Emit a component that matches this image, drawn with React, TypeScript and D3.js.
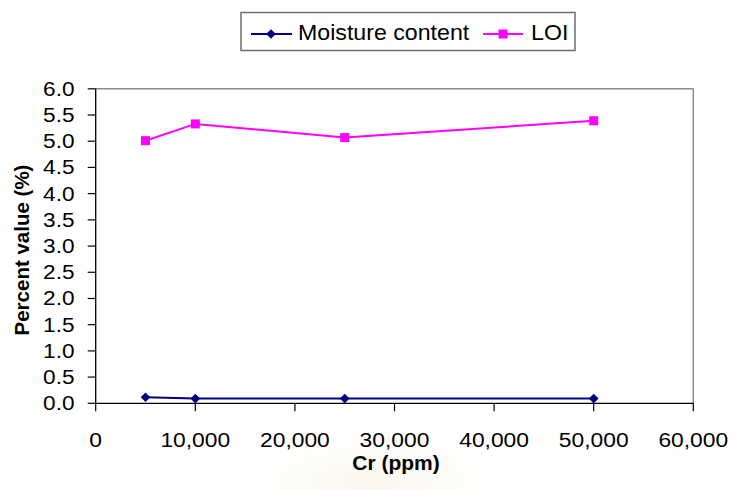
import React from "react";
import * as d3 from "d3";

// Chromium concentration (ppm) and measured percentages
const crPpm = [5000, 10000, 25000, 50000];
const moistureContent = [0.115, 0.09, 0.09, 0.09];
const loi = [5.01, 5.33, 5.07, 5.39];

const xTicks = [0, 10000, 20000, 30000, 40000, 50000, 60000];
const yTicks = [0, 0.5, 1, 1.5, 2, 2.5, 3, 3.5, 4, 4.5, 5, 5.5, 6];

const seriesNames = ["Moisture content", "LOI"];

const W = 734;
const H = 490;
const FONT = "'Liberation Sans', Arial, Helvetica, sans-serif";

export default function App() {
  const x = d3.scaleLinear().domain([0, 60000]).range([95.7, 693.3]);
  const y = d3.scaleLinear().domain([0, 6]).range([403.3, 88.8]);

  const line = d3
    .line<[number, number]>()
    .x((d) => x(d[0]))
    .y((d) => y(d[1]));

  const moisturePts = crPpm.map((c, i) => [c, moistureContent[i]] as [number, number]);
  const loiPts = crPpm.map((c, i) => [c, loi[i]] as [number, number]);

  const fmtX = d3.format(",");
  const fmtY = d3.format(".1f");

  const x0 = x(0);
  const x1 = x(60000);
  const yTop = y(6);
  const yBot = y(0);

  const diamond = (cx: number, cy: number, r = 4.8) =>
    `M${cx},${cy - r}L${cx + r},${cy}L${cx},${cy + r}L${cx - r},${cy}Z`;

  return (
    <svg
      width={W}
      height={H}
      viewBox={`0 0 ${W} ${H}`}
      style={{ position: "absolute", left: 0, top: 0, background: "#fff" }}
      fontFamily={FONT}
    >
      <defs>
        <radialGradient id="haze" cx="0.5" cy="0.5" r="0.5">
          <stop offset="0%" stopColor="#f5eed8" stopOpacity={0.5} />
          <stop offset="100%" stopColor="#f8f3e4" stopOpacity={0} />
        </radialGradient>
      </defs>
      <rect x={0} y={0} width={W} height={H} fill="#fff" />
      <ellipse cx={372} cy={480} rx={130} ry={45} fill="url(#haze)" />

      {/* plot area frame */}
      <line x1={x0} x2={x1} y1={yTop} y2={yTop} stroke="#8c8c8c" strokeWidth={1.5} />
      <line x1={x1} x2={x1} y1={yTop} y2={yBot} stroke="#8c8c8c" strokeWidth={1.5} />

      {/* y axis */}
      <line x1={x0} x2={x0} y1={yTop} y2={yBot} stroke="#000" strokeWidth={1.3} />
      {yTicks.map((t) => (
        <g key={"y" + t}>
          <line x1={x0 - 8} x2={x0} y1={y(t)} y2={y(t)} stroke="#000" strokeWidth={1.2} />
          <text
            transform={`translate(74.5,${y(t) + 7}) scale(1.16,1)`}
            textAnchor="end"
            fontSize={19.5}
            fill="#000"
          >
            {fmtY(t)}
          </text>
        </g>
      ))}

      {/* x axis */}
      <line x1={x0} x2={x1} y1={yBot} y2={yBot} stroke="#000" strokeWidth={1.3} />
      {xTicks.map((t) => (
        <g key={"x" + t}>
          <line x1={x(t)} x2={x(t)} y1={yBot} y2={yBot + 8} stroke="#000" strokeWidth={1.2} />
          <text
            transform={`translate(${x(t)},446.5) scale(1.17,1)`}
            textAnchor="middle"
            fontSize={19.5}
            fill="#000"
          >
            {fmtX(t)}
          </text>
        </g>
      ))}

      {/* axis titles */}
      <text
        transform="translate(396,470) scale(1.05,1)"
        textAnchor="middle"
        fontSize={20}
        fontWeight="bold"
        fill="#000"
      >
        Cr (ppm)
      </text>
      <text
        transform="translate(29,250) rotate(-90)"
        textAnchor="middle"
        fontSize={20.5}
        fontWeight="bold"
        fill="#000"
      >
        Percent value (%)
      </text>

      {/* series */}
      <path d={line(moisturePts) ?? ""} fill="none" stroke="#000080" strokeWidth={2} />
      <path d={line(loiPts) ?? ""} fill="none" stroke="#ff00ff" strokeWidth={2} />
      {moisturePts.map((p, i) => (
        <path key={"m" + i} d={diamond(x(p[0]), y(p[1]))} fill="#000080" />
      ))}
      {loiPts.map((p, i) => (
        <rect
          key={"l" + i}
          x={x(p[0]) - 4.5}
          y={y(p[1]) - 4.5}
          width={9}
          height={9}
          fill="#ff00ff"
        />
      ))}

      {/* legend */}
      <rect x={241} y={12.5} width={334} height={38} fill="#fff" stroke="#6e6e6e" strokeWidth={1.5} />
      <line x1={251} x2={292} y1={34} y2={34} stroke="#000080" strokeWidth={2} />
      <path d={diamond(271, 34)} fill="#000080" />
      <text transform="translate(298,39.5) scale(1.03,1)" fontSize={22.5} fill="#000">
        {seriesNames[0]}
      </text>
      <line x1={483} x2={523} y1={34} y2={34} stroke="#ff00ff" strokeWidth={2} />
      <rect x={498.5} y={29.5} width={9} height={9} fill="#ff00ff" />
      <text transform="translate(531,39.5) scale(1.03,1)" fontSize={22.5} fill="#000">
        {seriesNames[1]}
      </text>
    </svg>
  );
}
